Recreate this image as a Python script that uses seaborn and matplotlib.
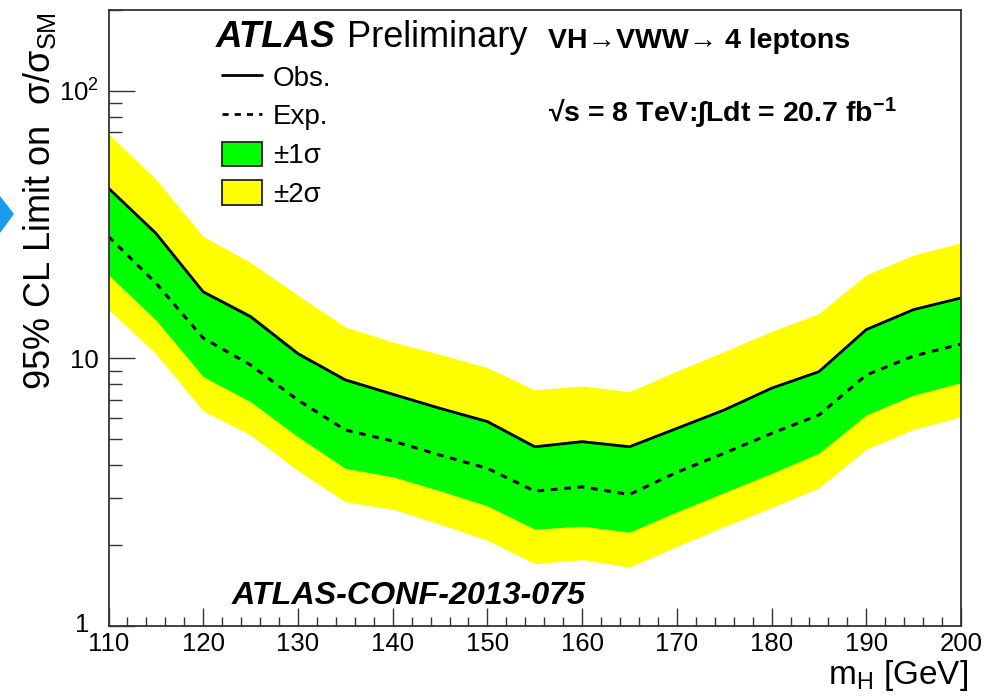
import numpy as np
import pandas as pd
import matplotlib
matplotlib.use("Agg")
import matplotlib.pyplot as plt
import matplotlib.transforms as mtransforms
import seaborn as sns
from matplotlib.lines import Line2D
from matplotlib.patches import Patch, Polygon
from matplotlib.ticker import FixedLocator, NullFormatter

# ---- data ----
mass = [110, 115, 120, 125, 130, 135, 140, 145, 150, 155, 160, 165, 170, 175, 180, 185, 190, 195, 200]
obs = [43.2, 29.3, 17.7, 14.3, 10.4, 8.30, 7.34, 6.50, 5.80, 4.67, 4.88, 4.67, 5.47, 6.41, 7.73, 8.91, 12.8, 15.2, 16.8]
expected = [28.5, 19.1, 11.9, 9.44, 6.98, 5.40, 4.91, 4.35, 3.88, 3.19, 3.31, 3.10, 3.75, 4.42, 5.24, 6.14, 8.66, 10.2, 11.3]
green_lo = [20.5, 13.9, 8.54, 6.88, 5.09, 3.88, 3.61, 3.20, 2.81, 2.30, 2.36, 2.24, 2.67, 3.15, 3.72, 4.42, 6.14, 7.29, 8.11]
green_hi = [43.8, 29.8, 18.0, 14.6, 10.6, 8.45, 7.45, 6.60, 5.90, 4.75, 4.96, 4.75, 5.56, 6.50, 7.85, 9.05, 13.0, 15.4, 17.0]
yellow_lo = [15.2, 10.4, 6.35, 5.17, 3.80, 2.91, 2.73, 2.40, 2.09, 1.71, 1.77, 1.66, 1.98, 2.35, 2.77, 3.28, 4.57, 5.43, 6.05]
yellow_hi = [68.9, 46.7, 28.5, 22.8, 17.2, 13.1, 11.5, 10.35, 9.23, 7.62, 7.88, 7.50, 8.96, 10.6, 12.6, 14.7, 20.5, 24.3, 27.0]

x_ticks = [110, 120, 130, 140, 150, 160, 170, 180, 190, 200]
x_ticklabels = ["110", "120", "130", "140", "150", "160", "170", "180", "190", "200"]
y_ticks = [1, 10, 100]
y_ticklabels = ["1", "10", "$10^{2}$"]

df = pd.DataFrame({"mass": mass, "obs": obs, "exp": expected})

sns.set_theme(style="ticks")
plt.rcParams["font.family"] = ["Liberation Sans", "DejaVu Sans"]
plt.rcParams["mathtext.fontset"] = "custom"
plt.rcParams["mathtext.rm"] = "Liberation Sans"
plt.rcParams["mathtext.it"] = "Liberation Sans:italic"
plt.rcParams["mathtext.bf"] = "Liberation Sans:bold"
plt.rcParams["mathtext.default"] = "regular"

W, H = 994, 698
fig = plt.figure(figsize=(W / 100, H / 100), dpi=100)
fig.patch.set_facecolor("white")
ax = fig.add_axes([108.5 / W, 1 - 626 / H, (961 - 108.5) / W, (626 - 10) / H])
ax.set_facecolor("white")

ax.fill_between(mass, yellow_lo, yellow_hi, color="#ffff00", lw=0, zorder=1)
ax.fill_between(mass, green_lo, green_hi, color="#00ff00", lw=0, zorder=2)
sns.lineplot(data=df, x="mass", y="exp", ax=ax, color="black", lw=2.2,
             linestyle=(0, (2.2, 2.2)), zorder=3)
sns.lineplot(data=df, x="mass", y="obs", ax=ax, color="black", lw=2.0, zorder=4)

ax.set_yscale("log")
ax.set_xlim(110, 200)
ax.set_ylim(1, 200)

ax.xaxis.set_major_locator(FixedLocator(x_ticks))
ax.set_xticklabels(x_ticklabels)
ax.xaxis.set_minor_locator(FixedLocator(list(range(110, 201, 2))))
ax.yaxis.set_major_locator(FixedLocator(y_ticks))
ax.set_yticklabels(y_ticklabels)
minors = [m * d for d in (1, 10, 100) for m in range(2, 10) if m * d <= 200]
ax.yaxis.set_minor_locator(FixedLocator(minors))
ax.yaxis.set_minor_formatter(NullFormatter())

for s in ax.spines.values():
    s.set_color("#333333")
    s.set_linewidth(1.3)
    s.set_zorder(6)
ax.tick_params(axis="x", which="major", direction="in", length=13, width=1.0,
               color="#333333", labelsize=18.5, pad=4, top=False, bottom=True, labelcolor="black")
ax.tick_params(axis="x", which="minor", direction="in", length=6.5, width=1.0,
               color="#333333", top=False, bottom=True)
ax.tick_params(axis="y", which="major", direction="in", length=18.7, width=1.0,
               color="#333333", labelsize=18.5, pad=7, right=False, left=True, labelcolor="black")
ax.tick_params(axis="y", which="minor", direction="in", length=9.4, width=1.0,
               color="#333333", right=False, left=True)
ax.set_xlabel("")
ax.set_ylabel("")

# shift the "1" label a little left/up so it clears the "110" label
ylabs = ax.get_yticklabels()
ylabs[0].set_transform(ylabs[0].get_transform() +
                       mtransforms.ScaledTranslation(-9 / 100, 3 / 100, fig.dpi_scale_trans))

# axis titles
fig.text(968 / W, 1 - 684 / H, r"m$_{\mathregular{H}}$ [GeV]", ha="right", va="baseline",
         fontsize=24, color="black")
fig.text(40 / W, 1 - 12 / H, "95% CL Limit on  σ/σ$_{\\mathregular{SM}}$", rotation=90,
         ha="center", va="top", fontsize=26, color="black")

# labels inside plot
fig.text(216 / W, 1 - 47 / H, "ATLAS", fontsize=26.5, fontweight="bold", fontstyle="italic",
         ha="left", va="baseline", color="black")
fig.text(347 / W, 1 - 47 / H, "Preliminary", fontsize=26, ha="left", va="baseline", color="black")
fig.text(548 / W, 1 - 48 / H, "VH→VWW→ 4 leptons", fontsize=20.5, fontweight="bold",
         ha="left", va="baseline", color="black", family=["Liberation Sans", "DejaVu Sans"])
fig.text(548 / W, 1 - 122 / H, "√s = 8 TeV:∫Ldt = 20.7 fb$^{-1}$", fontsize=20.5, fontweight="bold",
         ha="left", va="baseline", color="black", family=["Liberation Sans", "DejaVu Sans"])
fig.text(232 / W, 1 - 604 / H, "ATLAS-CONF-2013-075", fontsize=23.2, fontweight="bold",
         fontstyle="italic", ha="left", va="baseline", color="black")

handles = [Line2D([], [], color="black", lw=2.0),
           Line2D([], [], color="black", lw=2.0, linestyle=(0, (2.2, 2.2))),
           Patch(facecolor="#00ff00", edgecolor="#222222", lw=1.3),
           Patch(facecolor="#ffff00", edgecolor="#222222", lw=1.3)]
labels = ["Obs.", "Exp.", "±1σ", "±2σ"]
leg = ax.legend(handles, labels, loc="upper left", bbox_to_anchor=(222 / W, 1 - 64 / H),
                bbox_transform=fig.transFigure, frameon=False, fontsize=20,
                borderpad=0, borderaxespad=0, handlelength=1.44, handleheight=0.97,
                handletextpad=0.4, labelspacing=0.4)
for t in leg.get_texts():
    t.set_color("black")

# blue marker at left edge of the slide
fig.patches.append(Polygon([[0 / W, 1 - 196 / H], [14 / W, 1 - 214 / H], [0 / W, 1 - 233 / H]],
                           closed=True, transform=fig.transFigure, facecolor="#1a9af0",
                           edgecolor="none"))

fig.savefig("out.png", dpi=100, facecolor="white")
